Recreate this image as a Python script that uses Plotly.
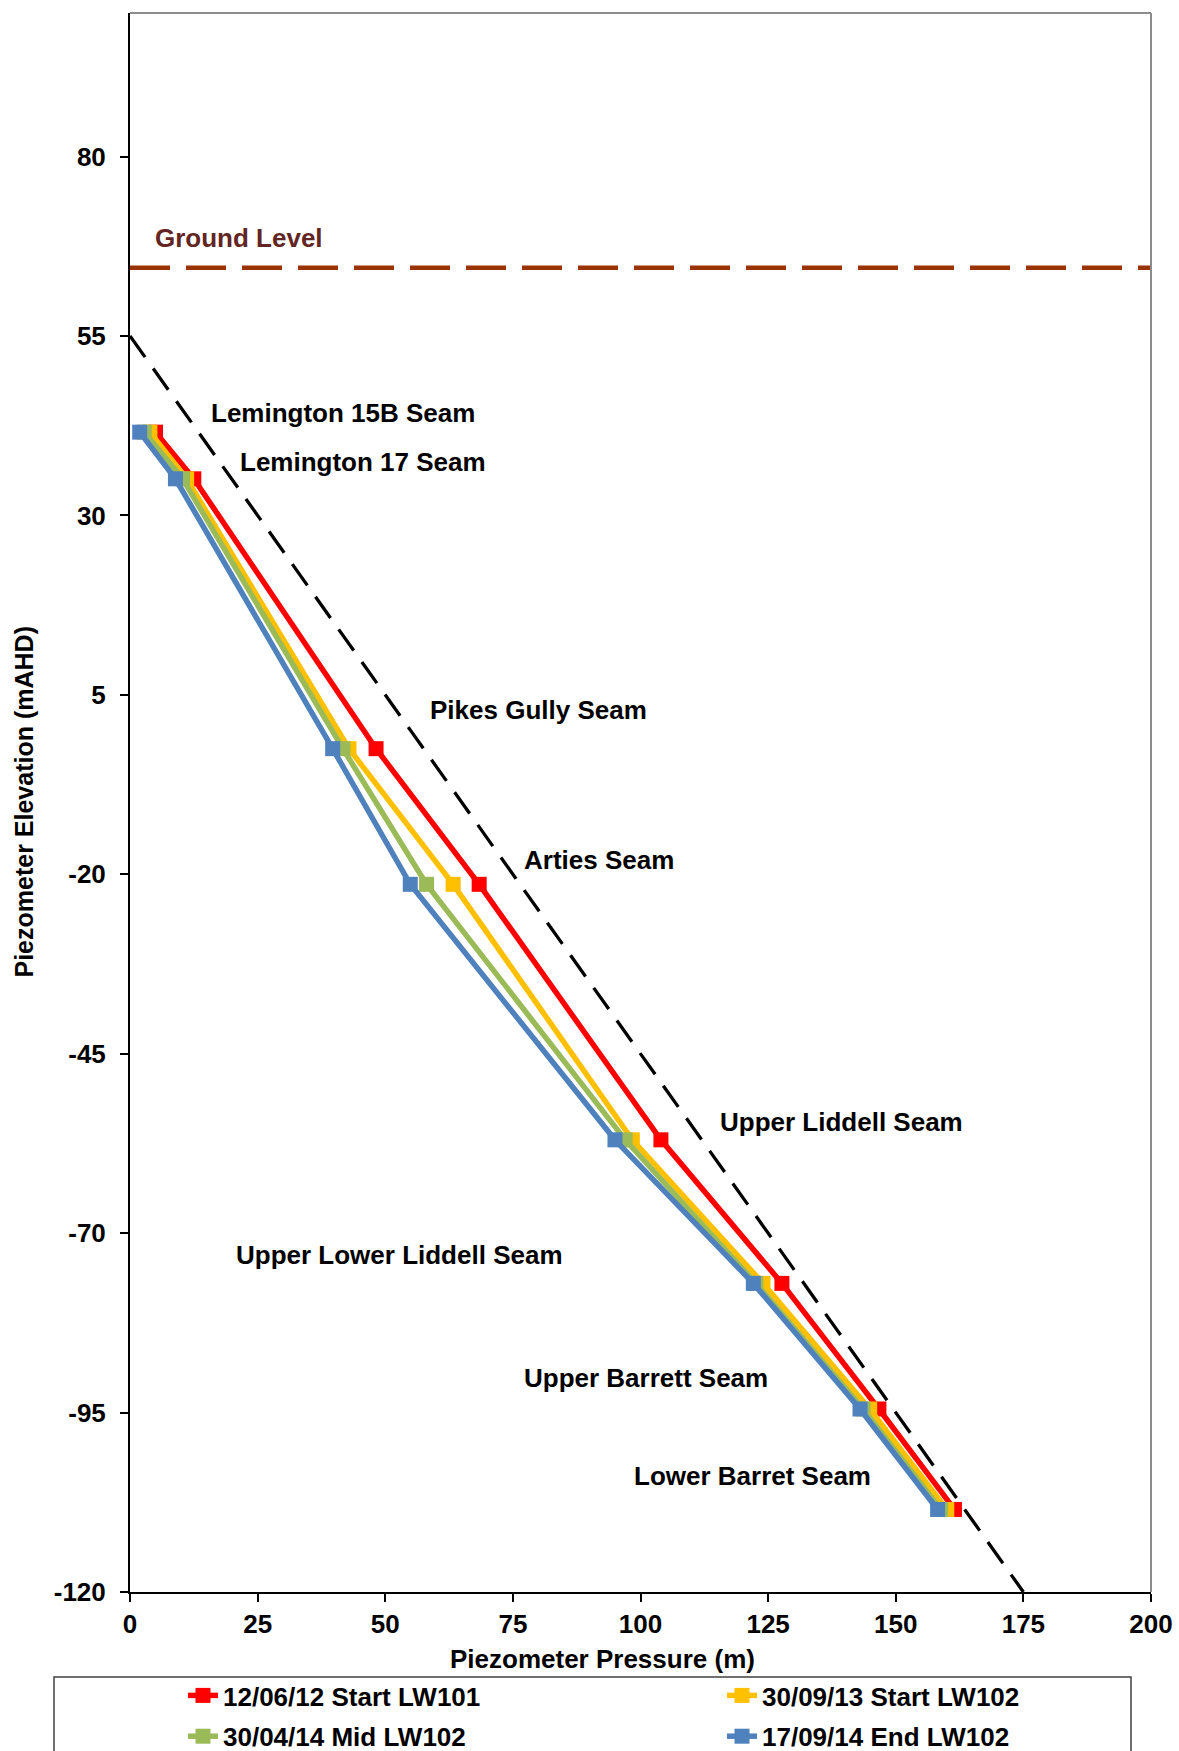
import plotly.graph_objects as go

# ---- data ----
seam_elevation = [41.6, 35.1, -2.5, -21.4, -57.0, -77.0, -94.5, -108.5]
series_names = ["12/06/12 Start LW101", "30/09/13 Start LW102",
                "30/04/14 Mid LW102", "17/09/14 End LW102"]
pressure_lw101_start = [5.0, 12.5, 48.2, 68.4, 104.0, 127.7, 146.7, 161.5]
pressure_lw102_start = [3.9, 11.1, 42.9, 63.3, 98.4, 124.0, 144.9, 160.0]
pressure_lw102_mid = [2.8, 10.3, 41.7, 58.1, 97.0, 122.6, 143.6, 158.8]
pressure_lw102_end = [1.9, 8.9, 39.7, 54.9, 95.0, 122.1, 143.0, 158.2]

hydrostatic_pressure = [0, 175]
hydrostatic_elevation = [55, -120]
ground_pressure = [0, 200]
ground_elevation = [64.5, 64.5]

seam_labels = ["Lemington 15B Seam", "Lemington 17 Seam", "Pikes Gully Seam",
               "Arties Seam", "Upper Liddell Seam", "Upper Lower Liddell Seam",
               "Upper Barrett Seam", "Lower Barret Seam"]
x_ticks = [0, 25, 50, 75, 100, 125, 150, 175, 200]
y_ticks = [-120, -95, -70, -45, -20, 5, 30, 55, 80]
y_tick_text = ["-120", "-95", "-70", "-45", "-20", "5", "30", "55", "80"]

# ---- styles / layout placement ----
colors = ["#FF0000", "#FFC000", "#9BBB59", "#4F81BD"]
legend_ids = ["legend", "legend2", "legend", "legend2"]
label_pos = [(15.5, 44.2), (21.2, 37.4), (58.3, 2.9), (76.7, -18.0),
             (115.1, -54.5), (20.3, -73.0), (76.7, -90.2), (98.3, -103.8)]
FONT = "Liberation Sans, Arial, sans-serif"

fig = go.Figure()

fig.add_trace(go.Scatter(x=ground_pressure, y=ground_elevation, mode="lines",
                         line=dict(color="#993300", width=4.5, dash="40px,16px"),
                         showlegend=False, hoverinfo="skip"))
fig.add_trace(go.Scatter(x=hydrostatic_pressure, y=hydrostatic_elevation, mode="lines",
                         line=dict(color="black", width=3.3, dash="26px,14px"),
                         showlegend=False, hoverinfo="skip"))

for i, (name, vals, c, lg) in enumerate(zip(series_names,
                         [pressure_lw101_start, pressure_lw102_start,
                          pressure_lw102_mid, pressure_lw102_end], colors, legend_ids)):
    fig.add_trace(go.Scatter(x=vals, y=seam_elevation, mode="lines+markers", name=name,
                             legend=lg, legendgroup="g%d" % i,
                             line=dict(color=c, width=5.5),
                             marker=dict(symbol="square", size=15, color=c)))

annotations = []
for txt, (ax, ay) in zip(seam_labels, label_pos):
    annotations.append(dict(x=ax, y=ay, xref="x", yref="y", text=txt, showarrow=False,
                            xanchor="left", yanchor="middle",
                            font=dict(size=26, color="black", family=FONT, weight="bold")))
annotations.append(dict(x=4.6, y=68.6, xref="x", yref="y", text="Ground Level",
                        showarrow=False, xanchor="left", yanchor="middle",
                        font=dict(size=26, color="#632523", family=FONT, weight="bold")))
annotations.append(dict(x=(602 - 130) / 1021, y=-(1659 - 1592) / 1579, xref="paper", yref="paper",
                        text="Piezometer Pressure (m)", showarrow=False,
                        xanchor="center", yanchor="middle",
                        font=dict(size=26, color="black", family=FONT, weight="bold")))
annotations.append(dict(x=-(130 - 23) / 1021, y=0.5, xref="paper", yref="paper",
                        text="Piezometer Elevation (mAHD)", showarrow=False, textangle=-90,
                        xanchor="center", yanchor="middle",
                        font=dict(size=25, color="black", family=FONT, weight="bold")))

shapes = [
    dict(type="line", xref="paper", yref="paper", x0=0, x1=1, y0=1, y1=1,
         line=dict(color="#8C8C8C", width=2)),
    dict(type="line", xref="paper", yref="paper", x0=1, x1=1, y0=0, y1=1,
         line=dict(color="#8C8C8C", width=2)),
    dict(type="rect", xref="paper", yref="paper",
         x0=(54 - 130) / 1021, x1=(1131 - 130) / 1021,
         y0=-(1760 - 1592) / 1579, y1=-(1677 - 1592) / 1579,
         line=dict(color="#404040", width=1.5), fillcolor="rgba(0,0,0,0)"),
]

axis_common = dict(showgrid=False, zeroline=False, showline=True, linecolor="black",
                   linewidth=2, ticks="outside", ticklen=8, tickwidth=2, tickcolor="black",
                   tickfont=dict(size=26, color="black", family=FONT, weight="bold"))

legend_common = dict(orientation="v", yanchor="top", xanchor="left",
                     y=-(1672 - 1592) / 1579, tracegroupgap=4,
                     font=dict(size=26, color="black", family=FONT, weight="bold"),
                     bgcolor="rgba(0,0,0,0)", borderwidth=0)

fig.update_layout(
    width=1179, height=1751,
    margin=dict(l=130, r=28, t=13, b=159, autoexpand=False),
    paper_bgcolor="white", plot_bgcolor="white",
    font=dict(family=FONT, color="black", weight="bold"),
    xaxis=dict(range=[0, 200], tickvals=x_ticks, **axis_common),
    yaxis=dict(range=[-120, 100], tickvals=y_ticks, ticktext=y_tick_text,
               ticklabelstandoff=9, **axis_common),
    annotations=annotations,
    shapes=shapes,
    legend=dict(x=(183 - 130) / 1021, **legend_common),
    legend2=dict(x=(722 - 130) / 1021, **legend_common),
)

fig.write_html("out.html")
